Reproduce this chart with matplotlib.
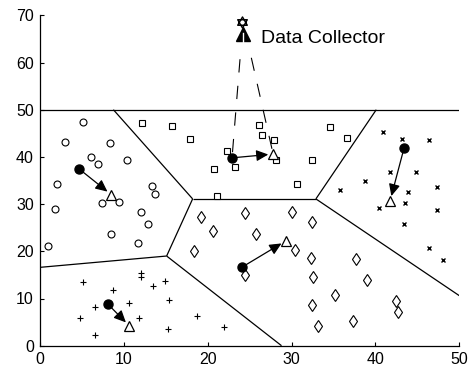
import numpy as np
import matplotlib
matplotlib.use("Agg")
import matplotlib.pyplot as plt
from matplotlib.path import Path

plt.rcParams['font.family'] = ['Liberation Sans', 'DejaVu Sans']

# ---------------- data ----------------
circle_x = [5.1, 3.0, 8.35, 6.1, 6.95, 10.4, 2.0, 13.4, 13.7, 7.35, 9.4, 1.8, 12.0, 12.9, 8.5, 11.65, 1.0]
circle_y = [47.3, 43.1, 42.9, 39.9, 38.6, 39.3, 34.2, 33.8, 32.1, 30.2, 30.4, 28.9, 28.3, 25.7, 23.6, 21.8, 21.1]

plus_x = [5.1, 12.1, 12.0, 13.5, 14.9, 8.75, 10.65, 15.4, 6.5, 4.75, 11.85, 15.3, 6.5, 18.7, 22.0]
plus_y = [13.4, 15.3, 14.5, 12.7, 13.8, 11.7, 9.0, 9.6, 8.2, 5.9, 5.9, 3.5, 2.3, 6.2, 4.0]

square_x = [17.9, 26.1, 26.5, 27.9, 22.25, 28.1, 32.45, 20.8, 23.2, 34.6, 36.55, 30.6, 21.15, 12.2, 15.8]
square_y = [43.7, 46.7, 44.6, 43.5, 41.3, 39.3, 39.3, 37.4, 37.8, 46.3, 43.9, 34.2, 31.8, 47.1, 46.5]

diamond_x = [19.15, 24.4, 30.1, 32.45, 20.65, 25.8, 18.4, 30.35, 32.3, 37.65, 24.4, 32.5, 35.2, 32.4,
             33.2, 37.3, 39.0, 42.5, 42.7]
diamond_y = [27.2, 28.1, 28.3, 26.3, 24.2, 23.6, 20.0, 20.3, 18.6, 18.3, 15.0, 14.6, 10.7, 8.6,
             4.2, 5.2, 13.9, 9.5, 7.2]

cross_x = [40.85, 43.2, 46.4, 41.7, 44.85, 38.7, 35.75, 43.9, 47.35, 43.5, 40.4, 47.35, 43.35, 46.4, 48.1]
cross_y = [45.2, 43.8, 43.6, 36.8, 36.8, 35.0, 32.9, 32.6, 33.6, 30.3, 29.2, 28.7, 25.8, 20.8, 18.2]

# cluster heads (filled) and their moved positions (triangles): circle, plus, square, diamond, cross
head_x = [4.7, 8.1, 22.9, 24.05, 43.4]
head_y = [37.4, 8.8, 39.8, 16.6, 41.8]
moved_x = [8.5, 10.65, 27.8, 29.3, 41.75]
moved_y = [32.0, 4.2, 40.6, 22.2, 30.7]

# Voronoi boundaries (segments)
seg_x0 = [0.0, 8.75, 18.2, 32.9, 32.9, 18.2, 15.1, 15.1]
seg_y0 = [50.0, 50.0, 31.1, 31.1, 31.1, 31.1, 19.0, 19.0]
seg_x1 = [50.0, 18.2, 32.9, 40.1, 50.0, 15.1, 0.0, 28.8]
seg_y1 = [50.0, 31.1, 31.1, 50.0, 10.6, 19.0, 16.6, 0.0]

# data collector
collector_star = (24.05, 68.5)
collector_tower = (24.25, 66.0)
collector_label = "Data Collector"
link_start_x = [23.85, 25.2]
link_start_y = [60.7, 61.0]
link_end_x = [head_x[2], moved_x[2]]
link_end_y = [head_y[2], moved_y[2]]

xticks = [0, 10, 20, 30, 40, 50]
yticks = [0, 10, 20, 30, 40, 50, 60, 70]

# ---------------- figure ----------------
fig = plt.figure(figsize=(4.76, 3.72), dpi=100)
ax = fig.add_axes([40/476, (372-345.7)/372, 419.3/476, 330.4/372])

for x0, y0, x1, y1 in zip(seg_x0, seg_y0, seg_x1, seg_y1):
    ax.plot([x0, x1], [y0, y1], color='black', lw=0.9, zorder=1, solid_capstyle='butt')

ax.plot(circle_x, circle_y, 'o', ms=5, mfc='white', mec='black', mew=0.8, ls='none', zorder=3)
ax.plot(plus_x, plus_y, '+', ms=5, mec='black', mew=0.8, ls='none', zorder=3)
ax.plot(square_x, square_y, 's', ms=4.3, mfc='white', mec='black', mew=0.8, ls='none', zorder=3)
ax.plot(diamond_x, diamond_y, 'd', ms=6.5, mfc='white', mec='black', mew=0.8, ls='none', zorder=3)
ax.plot(cross_x, cross_y, 'x', ms=3, mec='black', mew=1.0, ls='none', zorder=3)

# links to collector
for sx, sy, ex, ey in zip(link_start_x, link_start_y, link_end_x, link_end_y):
    ax.plot([sx, ex], [sy, ey], color='black', lw=0.8, ls=(0, (12, 12)), zorder=2)

# movement arrows
for hx, hy, mx, my in zip(head_x, head_y, moved_x, moved_y):
    ax.annotate('', xy=(mx, my), xytext=(hx, hy),
                arrowprops=dict(arrowstyle='-|>,head_length=0.6,head_width=0.28',
                                mutation_scale=12, color='black', lw=0.9,
                                shrinkA=0, shrinkB=3.5), zorder=4)

ax.plot(head_x, head_y, 'o', ms=6.5, mfc='black', mec='black', ls='none', zorder=5)
ax.plot(moved_x, moved_y, '^', ms=7.5, mfc='white', mec='black', mew=0.9, ls='none', zorder=5)

# collector icon
verts = [(0, 1), (-0.866, -0.5), (0.866, -0.5), (0, 1),
         (0, -1), (-0.866, 0.5), (0.866, 0.5), (0, -1)]
codes = [Path.MOVETO, Path.LINETO, Path.LINETO, Path.CLOSEPOLY,
         Path.MOVETO, Path.LINETO, Path.LINETO, Path.CLOSEPOLY]
hexagram = Path(verts, codes)
ax.plot([collector_tower[0]], [collector_tower[1]], '^', ms=10, mfc='black', mec='black', zorder=6,
        clip_on=False)
ax.plot([collector_tower[0], collector_tower[0]], [collector_tower[1] - 1.6, collector_tower[1] + 0.2],
        color='white', lw=1.0, zorder=7, clip_on=False)
ax.plot([collector_star[0]], [collector_star[1]], marker=hexagram, ms=8, mfc='white', mec='black',
        mew=1.0, zorder=8, clip_on=False)
ax.text(26.3, 65.0, collector_label, fontsize=14, ha='left', va='center')

ax.set_xlim(0, 50)
ax.set_ylim(0, 70)
ax.set_xticks(xticks)
ax.set_yticks(yticks)
ax.spines['top'].set_visible(False)
ax.spines['right'].set_visible(False)
ax.spines['left'].set_linewidth(0.9)
ax.spines['bottom'].set_linewidth(0.9)
ax.tick_params(direction='in', length=3, width=0.8, labelsize=11.5, pad=4.5)

fig.savefig('out.png', dpi=100)
